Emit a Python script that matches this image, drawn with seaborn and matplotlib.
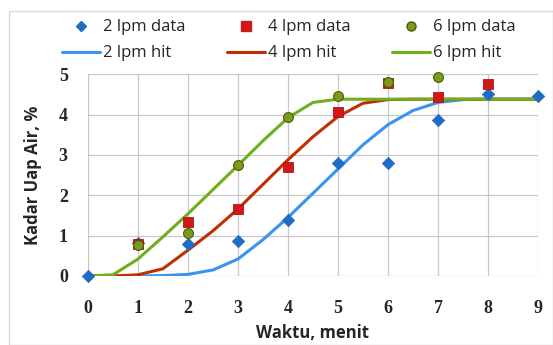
import numpy as np
import pandas as pd
import matplotlib.pyplot as plt
import seaborn as sns
from matplotlib.lines import Line2D
from matplotlib.patches import Rectangle

# data points (menit, kadar uap air %)
t_data_2 = [0, 1, 2, 3, 4, 5, 6, 7, 8, 9]
y_data_2 = [0, 0.82, 0.80, 0.87, 1.38, 2.81, 2.81, 3.87, 4.50, 4.47]
t_data_4 = [1, 2, 3, 4, 5, 6, 7, 8]
y_data_4 = [0.80, 1.35, 1.66, 2.69, 4.06, 4.79, 4.44, 4.76]
t_data_6 = [1, 2, 3, 4, 5, 6, 7]
y_data_6 = [0.76, 1.07, 2.74, 3.93, 4.46, 4.81, 4.92]

# fitted curves
t_fit = [0, 0.5, 1, 1.5, 2, 2.5, 3, 3.5, 4, 4.5, 5, 5.5, 6, 6.5, 7, 7.5, 8, 8.5, 9]
y_fit_2 = [0, 0, 0, 0.01, 0.04, 0.15, 0.42, 0.90, 1.45, 2.05, 2.65, 3.25, 3.75, 4.10, 4.30, 4.37, 4.38, 4.38, 4.38]
y_fit_4 = [0, 0, 0.03, 0.18, 0.64, 1.12, 1.66, 2.27, 2.88, 3.45, 3.95, 4.28, 4.37, 4.38, 4.38, 4.38, 4.38, 4.38, 4.38]
y_fit_6 = [0, 0.03, 0.42, 0.97, 1.54, 2.14, 2.74, 3.35, 3.92, 4.30, 4.38, 4.38, 4.38, 4.38, 4.38, 4.38, 4.38, 4.38, 4.38]

blue_m, blue_l = '#1f6cc4', '#3a94ee'
red_m, red_l = '#d01818', '#bf3000'
green_m, green_l = '#7a9c16', '#6fae1c'

sns.set_style("white")
plt.rcParams['font.family'] = ['Open Sans', 'DejaVu Sans']

fig = plt.figure(figsize=(5.53, 3.45), dpi=100)
ax = fig.add_axes([0.159, 0.2, 0.814, 0.585])

fit = pd.DataFrame({'t': t_fit, '2': y_fit_2, '4': y_fit_4, '6': y_fit_6})
sns.lineplot(data=fit, x='t', y='2', ax=ax, color=blue_l, lw=2.2)
sns.lineplot(data=fit, x='t', y='4', ax=ax, color=red_l, lw=2.2)
sns.lineplot(data=fit, x='t', y='6', ax=ax, color=green_l, lw=2.2)

sns.scatterplot(x=t_data_2, y=y_data_2, ax=ax, marker='D', s=40, color=blue_m,
                edgecolor=blue_m, zorder=5, clip_on=False)
sns.scatterplot(x=t_data_4, y=y_data_4, ax=ax, marker='s', s=55, color=red_m,
                edgecolor='#b01010', zorder=5, clip_on=False)
sns.scatterplot(x=t_data_6, y=y_data_6, ax=ax, marker='o', s=50, color=green_m,
                edgecolor='#4a5a10', linewidth=0.8, zorder=6, clip_on=False)

ax.set_xlim(0, 9)
ax.set_ylim(0, 5)
ax.set_xticks(range(10))
ax.set_yticks(range(6))
ax.grid(True, color='#c8c8c8', lw=0.9)
for s in ax.spines.values():
    s.set_visible(False)
ax.tick_params(axis='x', length=5, color='#c8c8c8', width=0.9, pad=12)
ax.tick_params(axis='y', length=4.5, color='#c8c8c8', width=0.9, pad=10)
for lab in ax.get_xticklabels() + ax.get_yticklabels():
    lab.set_fontfamily('Liberation Serif')
    lab.set_fontweight('bold')
    lab.set_fontsize(13)
ax.set_xlabel('Waktu, menit', fontsize=12, fontweight='bold', labelpad=5)
ax.set_ylabel('Kadar Uap Air, %', fontsize=12, fontweight='bold', labelpad=12)

handles = [
    Line2D([], [], ls='', marker='D', color=blue_m, ms=5.5),
    Line2D([], [], color=blue_l, lw=2.2),
    Line2D([], [], ls='', marker='s', color=red_m, ms=6.5),
    Line2D([], [], color=red_l, lw=2.2),
    Line2D([], [], ls='', marker='o', color=green_m, mec='#4a5a10', ms=6.5),
    Line2D([], [], color=green_l, lw=2.2),
]
labels = ['2 lpm data', '2 lpm hit', '4 lpm data', '4 lpm hit', '6 lpm data', '6 lpm hit']
fig.legend(handles, labels, ncol=3, loc='upper center', bbox_to_anchor=(0.522, 0.987),
           frameon=False, fontsize=12, handlelength=2.3, handletextpad=0.15,
           columnspacing=2.5, labelspacing=0.6)

fig.patches.append(Rectangle((0.017, 0.0), 0.983, 0.968, transform=fig.transFigure,
                             fill=False, edgecolor='#d9d9d9', lw=1))

fig.savefig('out.png', dpi=100)
